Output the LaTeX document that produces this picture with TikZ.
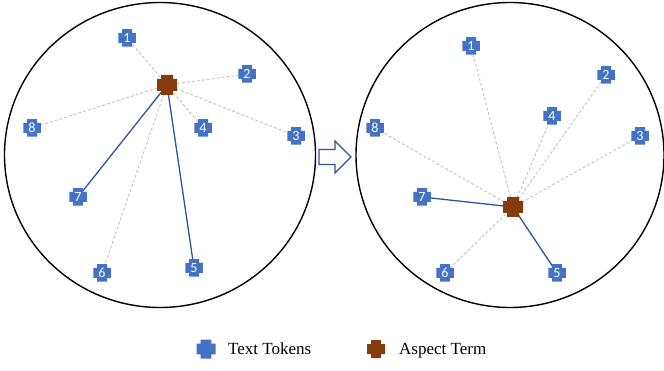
\documentclass[tikz,border=0pt]{standalone}
\usepackage{fontspec}
\setmainfont{Liberation Serif}
\newfontfamily\numfont{Carlito}
\usetikzlibrary{backgrounds}
\definecolor{tokblue}{HTML}{4472C4}
\definecolor{aspbrown}{HTML}{843C0C}
\definecolor{linkblue}{HTML}{2F5597}
\definecolor{dashgray}{HTML}{C4C4C4}
\tikzset{
  xcross/.style n args={3}{shape=rectangle, minimum size=#2, inner sep=0pt, outer sep=0pt,
    path picture={\fill[#1] ([shift={(-#3,-#2/2)}]path picture bounding box.center)
      -- ++(2*#3,0pt) -- ++(0pt,#2/2-#3) -- ++(#2/2-#3,0pt) -- ++(0pt,2*#3)
      -- ++(-#2/2+#3,0pt) -- ++(0pt,#2/2-#3) -- ++(-2*#3,0pt) -- ++(0pt,-#2/2+#3)
      -- ++(-#2/2+#3,0pt) -- ++(0pt,-2*#3) -- ++(#2/2-#3,0pt) -- cycle;}},
  tok/.style={xcross={tokblue}{17.5pt}{5pt}, text=white, font=\numfont\fontsize{14}{14}\selectfont},
  asp/.style={xcross={aspbrown}{20pt}{6pt}},
  weak/.style={draw=dashgray, line width=0.9pt, dash pattern=on 3pt off 2pt},
  strong/.style={draw=linkblue, line width=1.3pt},
  ring/.style={draw=black, line width=1.4pt},
  legtext/.style={anchor=base west, font=\fontsize{17}{17}\selectfont, text=black, inner sep=0pt}
}
\begin{document}
\begin{tikzpicture}[x=1pt,y=-1pt]
\useasboundingbox (0,0) rectangle (664,371);
% left circle
\draw[ring] (160,155) ellipse [x radius=155.5, y radius=152.5];
\node[asp] (la) at (167,85) {};
\node[tok] (l1) at (127,38) {1};
\node[tok] (l2) at (247,74) {2};
\node[tok] (l3) at (296,136) {3};
\node[tok] (l4) at (203,128) {4};
\node[tok] (l5) at (194,268) {5};
\node[tok] (l6) at (102,273) {6};
\node[tok] (l7) at (78,197) {7};
\node[tok] (l8) at (32,128) {8};
% right circle
\draw[ring] (510,155) ellipse [x radius=154, y radius=152.5];
\node[asp] (ra) at (513,207) {};
\node[tok] (r1) at (471,46) {1};
\node[tok] (r2) at (606,75) {2};
\node[tok] (r3) at (640,136) {3};
\node[tok] (r4) at (552,116) {4};
\node[tok] (r5) at (557,273) {5};
\node[tok] (r6) at (445,273) {6};
\node[tok] (r7) at (422,197) {7};
\node[tok] (r8) at (375,128) {8};
\begin{pgfonlayer}{background}
  \foreach \n in {1,2,3,4,6,8} {
    \draw[weak] (la.center) -- (l\n.center);
    \draw[weak] (ra.center) -- (r\n.center);
  }
  \draw[strong] (la.center) -- (l7.center);
  \draw[strong] (la.center) -- (l5.center);
  \draw[strong] (ra.center) -- (r7.center);
  \draw[strong] (ra.center) -- (r5.center);
\end{pgfonlayer}
% transition arrow
\draw[draw=linkblue, line width=1.1pt, fill=white, line join=miter]
  (319,149.5) -- (335,149.5) -- (335,141) -- (351,157) -- (335,173) -- (335,164.5) -- (319,164.5) -- cycle;
% legend
\node[xcross={tokblue}{19pt}{5.3pt}] (legtok) at (206,349) {};
\node[legtext] (legtoktext) at (228,354) {Text Tokens};
\node[xcross={aspbrown}{18pt}{5pt}] (legasp) at (376,349) {};
\node[legtext] (legasptext) at (399,354) {Aspect Term};
\end{tikzpicture}
\end{document}
